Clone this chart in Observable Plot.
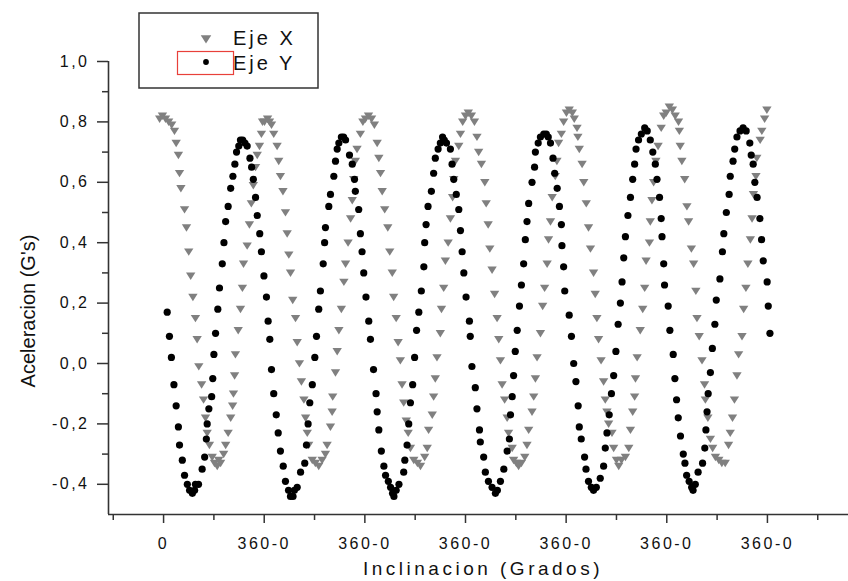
<!DOCTYPE html>
<html><head><meta charset="utf-8">
<script src="https://cdn.jsdelivr.net/npm/d3@7"></script>
<script src="https://cdn.jsdelivr.net/npm/@observablehq/plot@0.6"></script>
<style>
html,body{margin:0;padding:0;background:#fff;}
#chart{position:relative;width:848px;height:581px;}
#chart svg text{letter-spacing:2.5px;}
</style></head><body><div id="chart"></div>
<script>
const seriesNames = ["Eje X", "Eje Y"];

const ejeX_grados = [
-14,-4,7,18,29,39,45,53,57,62,75,82,90,97,105,114,120,126,136,143,150,156,164,174,182,192,197,204,215,222,231,240,247,250,254,257,267,275,282,286,299,307,314,321,329,335,343,350,354,
361,372,379,386,394,406,412,418,427,436,442,448,454,462,472,478,486,493,502,508,514,519,532,543,555,567,579,585,597,603,605,615,621,627,636,645,651,660,669,675,680,686,692,704,713,
722,733,744,754,764,770,776,782,791,802,809,818,823,832,839,847,853,859,868,875,883,895,908,919,934,943,948,961,966,972,978,990,994,1002,1008,1018,1026,1034,1038,1044,1056,1062,1070,
1080,1090,1101,1112,1121,1127,1137,1149,1154,1161,1167,1175,1184,1193,1199,1205,1211,1220,1229,1234,1247,1252,1262,1270,1280,1292,1300,1306,1318,1324,1330,1336,1348,1356,1363,1372,1377,1384,1390,1401,1407,1413,1423,1431,
1441,1451,1462,1469,1479,1482,1487,1497,1503,1512,1520,1527,1538,1544,1550,1556,1565,1574,1580,1586,1592,1604,1610,1620,1628,1638,1652,1664,1670,1678,1685,1688,1694,1705,1714,1721,1726,1738,1741,1747,1753,1761,1769,1780,1789,
1798,1809,1820,1830,1842,1845,1848,1854,1864,1872,1878,1888,1896,1904,1908,1916,1926,1935,1938,1947,1956,1964,1974,1986,1997,2009,2021,2027,2035,2042,2051,2057,2069,2075,2083,2090,2099,2105,2110,2119,2122,2134,2140,2150,2158
];
const ejeX_g = [
0.81,0.82,0.81,0.80,0.79,0.77,0.73,0.69,0.63,0.58,0.51,0.45,0.37,0.29,0.22,0.15,0.08,-0.01,-0.07,-0.12,-0.18,-0.23,-0.27,-0.31,-0.33,-0.34,-0.32,-0.33,-0.30,-0.27,-0.23,-0.18,-0.14,-0.10,-0.04,0.03,0.11,0.18,0.25,0.33,0.39,0.46,0.53,0.59,0.65,0.69,0.72,0.76,0.80,
0.80,0.81,0.80,0.79,0.76,0.72,0.67,0.62,0.57,0.50,0.43,0.36,0.30,0.21,0.15,0.07,0.00,-0.06,-0.12,-0.18,-0.23,-0.27,-0.32,-0.33,-0.34,-0.32,-0.30,-0.27,-0.21,-0.16,-0.11,-0.03,0.04,0.11,0.18,0.27,0.33,0.40,0.48,0.54,0.61,0.67,0.71,0.76,0.80,
0.81,0.82,0.81,0.79,0.73,0.68,0.63,0.57,0.51,0.45,0.37,0.30,0.22,0.15,0.07,0.01,-0.07,-0.13,-0.19,-0.23,-0.28,-0.32,-0.33,-0.34,-0.31,-0.28,-0.22,-0.17,-0.11,-0.05,0.02,0.10,0.18,0.25,0.34,0.40,0.48,0.55,0.61,0.67,0.72,0.76,0.80,
0.82,0.83,0.82,0.80,0.75,0.70,0.66,0.60,0.53,0.46,0.38,0.31,0.23,0.15,0.08,0.01,-0.07,-0.12,-0.18,-0.23,-0.28,-0.32,-0.33,-0.34,-0.33,-0.31,-0.27,-0.22,-0.16,-0.11,-0.05,0.02,0.10,0.19,0.25,0.33,0.41,0.47,0.55,0.62,0.67,0.73,0.76,0.80,
0.83,0.84,0.83,0.81,0.78,0.75,0.71,0.66,0.60,0.53,0.45,0.38,0.30,0.23,0.15,0.08,0.01,-0.06,-0.12,-0.16,-0.20,-0.23,-0.28,-0.32,-0.34,-0.32,-0.31,-0.28,-0.22,-0.16,-0.11,-0.05,0.02,0.11,0.18,0.25,0.34,0.40,0.47,0.54,0.60,0.67,0.72,0.78,0.82,
0.83,0.85,0.84,0.82,0.80,0.77,0.72,0.67,0.61,0.52,0.47,0.38,0.33,0.24,0.15,0.09,0.01,-0.07,-0.12,-0.18,-0.25,-0.28,-0.31,-0.32,-0.33,-0.33,-0.27,-0.23,-0.18,-0.12,-0.04,0.03,0.09,0.18,0.25,0.33,0.41,0.48,0.56,0.62,0.68,0.74,0.77,0.81,0.84
];

const ejeY_grados = [
13,21,28,37,45,53,57,67,75,85,93,103,111,114,125,
138,147,153,156,162,172,176,180,186,194,200,210,216,222,231,240,248,255,261,269,275,283,291,299,309,315,321,329,335,344,350,359,368,374,380,386,394,403,410,418,428,436,447,454,463,468,478,
490,505,511,517,523,532,541,547,555,561,571,576,579,591,597,609,615,621,627,636,644,651,665,675,683,686,698,704,710,716,724,734,740,751,760,764,770,779,788,794,804,812,819,824,832,
842,859,863,871,877,883,891,898,905,913,922,931,934,939,946,958,966,972,982,990,998,1004,1012,1026,1032,1038,1047,1056,1062,1068,1074,1082,1094,1097,1103,1115,1121,1130,1133,1145,1151,1162,1175,1187,1194,
1205,1217,1229,1237,1241,1247,1252,1258,1265,1273,1280,1288,1294,1300,1306,1318,1327,1330,1340,1348,1360,1369,1376,1384,1393,1399,1408,1416,1423,1425,1431,1435,1451,1459,1467,1475,1483,1487,1494,1506,1511,1520,1530,1538,1548,
1562,1574,1580,1586,1594,1602,1610,1618,1626,1634,1640,1646,1652,1661,1670,1678,1685,1690,1699,1709,1721,1730,1741,1750,1759,1765,1774,1780,1783,1789,1792,1805,1811,1823,1829,1835,1841,1849,1859,1865,1871,1880,1889,1894,1902,
1912,1928,1936,1940,1944,1948,1956,1963,1972,1977,1990,1999,2004,2013,2023,2027,2037,2043,2051,2062,2073,2084,2097,2102,2109,2115,2123,2133,2139,2145,2159,2163,2169
];
const ejeY_g = [
0.17,0.09,0.02,-0.07,-0.14,-0.21,-0.27,-0.32,-0.37,-0.40,-0.42,-0.43,-0.42,-0.40,-0.40,
-0.35,-0.31,-0.25,-0.20,-0.15,-0.11,-0.05,0.03,0.10,0.18,0.25,0.33,0.40,0.47,0.52,0.58,0.62,0.66,0.70,0.72,0.74,0.74,0.73,0.72,0.68,0.65,0.61,0.55,0.49,0.43,0.37,0.29,0.22,0.14,0.08,-0.02,-0.10,-0.17,-0.23,-0.29,-0.34,-0.39,-0.42,-0.44,-0.44,-0.42,-0.41,
-0.36,-0.33,-0.27,-0.20,-0.13,-0.07,0.02,0.09,0.18,0.24,0.33,0.40,0.45,0.52,0.56,0.62,0.67,0.71,0.73,0.75,0.75,0.74,0.69,0.66,0.61,0.57,0.51,0.43,0.37,0.30,0.22,0.14,0.08,-0.02,-0.10,-0.16,-0.22,-0.29,-0.34,-0.37,-0.39,-0.41,-0.43,-0.44,-0.42,
-0.40,-0.36,-0.32,-0.27,-0.20,-0.13,-0.07,0.02,0.11,0.17,0.24,0.32,0.40,0.46,0.52,0.57,0.63,0.68,0.71,0.73,0.75,0.74,0.73,0.71,0.66,0.61,0.56,0.51,0.44,0.37,0.30,0.22,0.14,0.09,-0.01,-0.08,-0.15,-0.22,-0.26,-0.31,-0.36,-0.39,-0.41,-0.43,-0.42,
-0.39,-0.35,-0.29,-0.25,-0.17,-0.11,-0.04,0.04,0.11,0.19,0.26,0.33,0.41,0.47,0.53,0.60,0.65,0.70,0.73,0.75,0.76,0.76,0.75,0.73,0.68,0.63,0.58,0.52,0.46,0.39,0.32,0.24,0.16,0.09,0.00,-0.06,-0.14,-0.21,-0.25,-0.31,-0.35,-0.39,-0.41,-0.42,-0.41,
-0.38,-0.34,-0.28,-0.23,-0.17,-0.10,-0.04,0.04,0.13,0.20,0.27,0.35,0.42,0.49,0.55,0.61,0.66,0.71,0.74,0.76,0.78,0.77,0.74,0.70,0.66,0.61,0.55,0.48,0.42,0.33,0.26,0.19,0.11,0.03,-0.05,-0.12,-0.18,-0.24,-0.30,-0.33,-0.37,-0.39,-0.41,-0.42,-0.40,
-0.36,-0.33,-0.28,-0.22,-0.16,-0.10,-0.03,0.05,0.13,0.21,0.28,0.37,0.43,0.50,0.56,0.62,0.67,0.71,0.75,0.77,0.78,0.77,0.73,0.69,0.66,0.60,0.55,0.48,0.41,0.34,0.27,0.19,0.10
];

const xMajorTicks = [0, 360, 720, 1080, 1440, 1800, 2160];
const xMajorLabels = ["0", "360-0", "360-0", "360-0", "360-0", "360-0", "360-0"];
const xMinorTicks = [-180, 180, 540, 900, 1260, 1620, 1980, 2340];
const yMajorTicks = [-0.4, -0.2, 0, 0.2, 0.4, 0.6, 0.8, 1.0];
const yMinorTicks = [-0.3, -0.1, 0.1, 0.3, 0.5, 0.7, 0.9];
const xLabel = "Inclinacion (Grados)";
const yLabel = "Aceleracion (G's)";

const dataX = ejeX_grados.map((g, i) => ({grados: g, g: ejeX_g[i], serie: seriesNames[0]}));
const dataY = ejeY_grados.map((g, i) => ({grados: g, g: ejeY_g[i], serie: seriesNames[1]}));

const triDown = {draw(ctx, size) {
  const r = Math.sqrt(size / Math.PI);
  ctx.moveTo(-1.2 * r, -0.85 * r);
  ctx.lineTo(1.2 * r, -0.85 * r);
  ctx.lineTo(0, 1.05 * r);
  ctx.closePath();
}};

const axisColor = "#333";
const textColor = "#111";
const plot = Plot.plot({
  width: 848, height: 581,
  marginLeft: 108, marginRight: 0, marginTop: 61, marginBottom: 67,
  style: {fontFamily: "'Liberation Sans', Arial, sans-serif", fontSize: "16px", color: textColor, background: "#fff", overflow: "visible"},
  x: {domain: [-197, 2450]},
  y: {domain: [-0.5, 1.0]},
  marks: [
    Plot.ruleY([-0.5], {stroke: axisColor, strokeWidth: 1.6}),
    Plot.ruleX([-197], {stroke: axisColor, strokeWidth: 1.6}),
    Plot.axisX({ticks: xMajorTicks, tickSize: 9, tickPadding: 14, label: null, stroke: axisColor, strokeWidth: 1.5,
      tickFormat: d => xMajorLabels[xMajorTicks.indexOf(d)]}),
    Plot.axisX({ticks: xMinorTicks, tickSize: 6, label: null, stroke: axisColor, strokeWidth: 1.5, tickFormat: () => ""}),
    Plot.axisY({ticks: yMajorTicks, tickSize: 11, tickPadding: 8, label: null, stroke: axisColor, strokeWidth: 1.5,
      tickFormat: d => d.toFixed(1).replace(".", ",")}),
    Plot.axisY({ticks: yMinorTicks, tickSize: 6, label: null, stroke: axisColor, strokeWidth: 1.5, tickFormat: () => ""}),
    Plot.dot(dataX, {x: "grados", y: "g", symbol: triDown, r: 3.9, fill: "#808080"}),
    Plot.dot(dataY, {x: "grados", y: "g", r: 3.6, fill: "#000"})
  ]
});
document.getElementById("chart").appendChild(plot);

const svg = d3.select(plot);

// axis titles
svg.append("text").attr("x", 483).attr("y", 575).attr("text-anchor", "middle")
  .style("font-size", "19px").style("letter-spacing", "3.5px").attr("fill", textColor).text(xLabel);
svg.append("text").attr("transform", "translate(35,311) rotate(-90)").attr("text-anchor", "middle")
  .style("font-size", "20px").style("letter-spacing", "0px").attr("fill", textColor).text(yLabel);

// legend
const lg = svg.append("g").attr("class", "legend");
lg.append("rect").attr("x", 139).attr("y", 13).attr("width", 179).attr("height", 75)
  .attr("fill", "none").attr("stroke", axisColor).attr("stroke-width", 1.5);
lg.append("path").attr("transform", "translate(206,39)")
  .attr("d", d3.symbol(triDown, Math.PI * 4.4 * 4.4)()).attr("fill", "#808080");
lg.append("text").attr("x", 233).attr("y", 45).attr("text-anchor", "start").text(seriesNames[0])
  .style("font-size", "20px").style("letter-spacing", "3px").attr("fill", textColor);
lg.append("rect").attr("x", 177.5).attr("y", 51.5).attr("width", 56).attr("height", 23)
  .attr("fill", "none").attr("stroke", "#e8403a").attr("stroke-width", 1.2);
lg.append("circle").attr("cx", 206).attr("cy", 62).attr("r", 2.9).attr("fill", "#000");
lg.append("text").attr("x", 233).attr("y", 70).attr("text-anchor", "start").text(seriesNames[1])
  .style("font-size", "20px").style("letter-spacing", "3px").attr("fill", textColor);
</script>
</body></html>
